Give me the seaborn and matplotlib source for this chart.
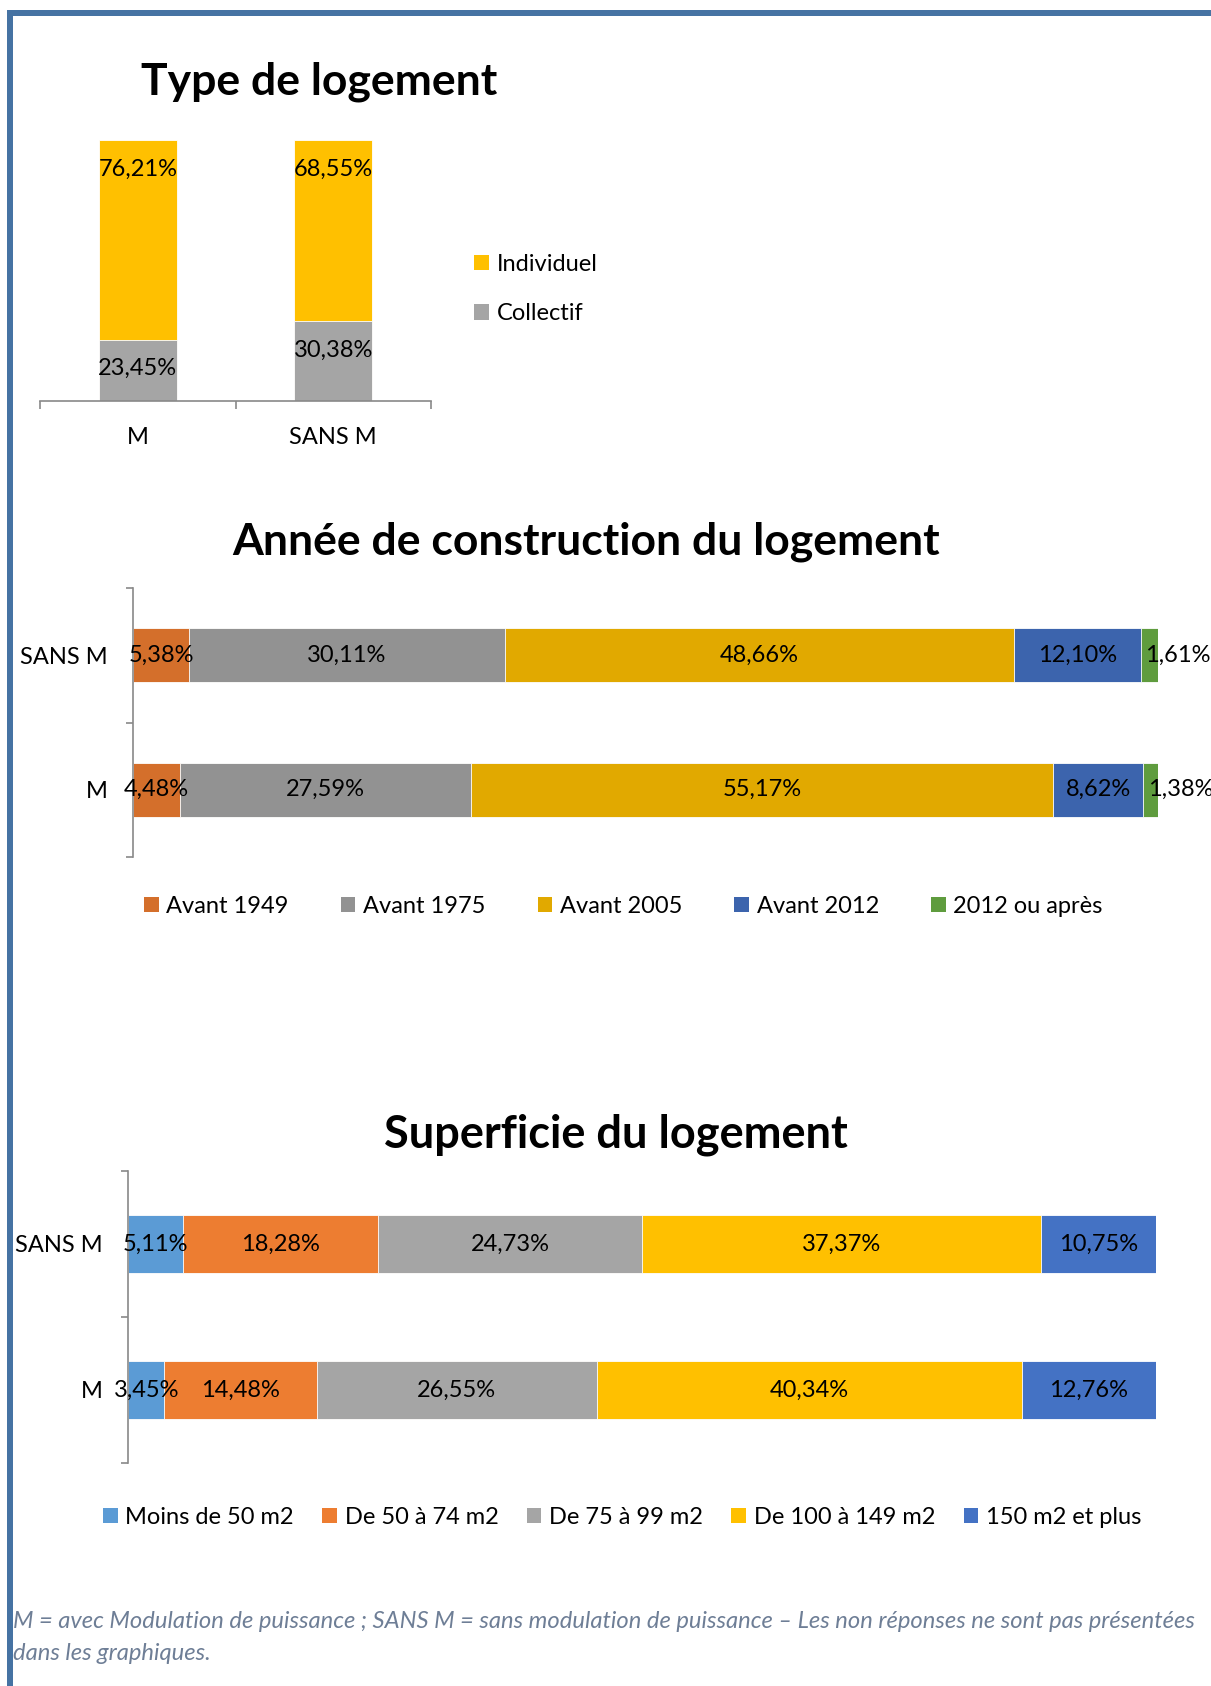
import pandas as pd
import seaborn as sns
import matplotlib.pyplot as plt
from matplotlib.patches import Patch, Rectangle
from matplotlib.ticker import FixedLocator

W, H = 1211, 1686

# --- Type de logement (vertical 100% stacked) ---
type_cats = ["M", "SANS M"]
type_series = ["Collectif", "Individuel"]
collectif = [23.45, 30.38]
individuel = [76.21, 68.55]
type_colors = ["#A5A5A5", "#FFC000"]

# --- Année de construction (horizontal 100% stacked) ---
cons_cats = ["SANS M", "M"]
cons_series = ["Avant 1949", "Avant 1975", "Avant 2005", "Avant 2012", "2012 ou après"]
avant_1949 = [5.38, 4.48]
avant_1975 = [30.11, 27.59]
avant_2005 = [48.66, 55.17]
avant_2012 = [12.10, 8.62]
apres_2012 = [1.61, 1.38]
cons_colors = ["#D46F2B", "#929292", "#E1A900", "#3C64AD", "#5F9C3E"]

# --- Superficie (horizontal 100% stacked) ---
surf_cats = ["SANS M", "M"]
surf_series = ["Moins de 50 m2", "De 50 à 74 m2", "De 75 à 99 m2",
               "De 100 à 149 m2", "150 m2 et plus"]
moins_50 = [5.11, 3.45]
de_50_74 = [18.28, 14.48]
de_75_99 = [24.73, 26.55]
de_100_149 = [37.37, 40.34]
plus_150 = [10.75, 12.76]
surf_colors = ["#5B9BD5", "#ED7D31", "#A5A5A5", "#FFC000", "#4472C4"]

FOOTNOTE_1 = ("M = avec Modulation de puissance ; SANS M = sans modulation de puissance "
              "\u2013 Les non réponses ne sont pas présentées")
FOOTNOTE_2 = "dans les graphiques."

AXIS_GREY = "#898989"
BORDER = "#4673A3"
FS = 17


def px_axes(fig, left, top, right, bottom):
    return fig.add_axes([left / W, 1 - bottom / H, (right - left) / W, (bottom - top) / H])


def pct(v):
    return f"{v:.2f}".replace(".", ",") + "%"


def stacked(ax, cats, series, values, colors, horizontal):
    df = pd.DataFrame(dict(zip(series, values)), index=cats)
    share = df.div(df.sum(axis=1), axis=0)  # Excel normalises 100% stacked bars
    cum = share.cumsum(axis=1)
    # draw cumulative totals from the longest to the shortest
    for name, color in reversed(list(zip(series, colors))):
        d = pd.DataFrame({"cat": cats, "val": cum[name].values})
        if horizontal:
            sns.barplot(data=d, x="val", y="cat", order=cats, color=color, width=0.4,
                        saturation=1, errorbar=None, edgecolor="white", linewidth=0.6, ax=ax)
        else:
            sns.barplot(data=d, x="cat", y="val", order=cats, color=color, width=0.4,
                        saturation=1, errorbar=None, edgecolor="white", linewidth=0.6, ax=ax)
    ax.set_xlabel("")
    ax.set_ylabel("")
    return df, share, cum


def legend(fig, series, colors, x, y, ncol, colspace, spacing=1.0):
    handles = [Patch(facecolor=c, edgecolor="none", label=s) for s, c in zip(series, colors)]
    fig.legend(handles=handles, loc="center left", bbox_to_anchor=(x / W, 1 - y / H),
               ncol=ncol, frameon=False, fontsize=FS, handlelength=0.62, handleheight=0.62,
               handletextpad=0.33, columnspacing=colspace, borderpad=0, borderaxespad=0,
               labelspacing=spacing)


def horizontal_chart(fig, box, cats, series, values, colors, last_left):
    ax = px_axes(fig, *box)
    df, share, cum = stacked(ax, cats, series, values, colors, True)
    ax.set_xlim(0, 1)
    ax.set_ylim(1.5, -0.5)
    for s in ["top", "right", "bottom"]:
        ax.spines[s].set_visible(False)
    ax.spines["left"].set_color(AXIS_GREY)
    ax.spines["left"].set_linewidth(1.2)
    ax.set_xticks([])
    ax.set_yticks(range(len(cats)))
    ax.set_yticklabels(cats, fontsize=FS)
    ax.tick_params(axis="y", which="major", length=0, pad=18)
    ax.yaxis.set_minor_locator(FixedLocator([-0.5, 0.5, 1.5]))
    ax.tick_params(axis="y", which="minor", left=True, length=5, width=1.2, color=AXIS_GREY)
    for i, cat in enumerate(cats):
        for j, name in enumerate(series):
            start = cum.loc[cat, name] - share.loc[cat, name]
            txt = pct(df.loc[cat, name])
            if last_left and j == len(series) - 1:
                ax.annotate(txt, (start, i), xytext=(3, 0), textcoords="offset points",
                            ha="left", va="center", fontsize=FS, annotation_clip=False)
            else:
                ax.text(start + share.loc[cat, name] / 2, i, txt, ha="center", va="center",
                        fontsize=FS)
    return ax


def main():
    sns.set_style("white")
    plt.rcParams["font.family"] = ["Lato", "DejaVu Sans"]
    plt.rcParams["text.color"] = "black"
    plt.rcParams["xtick.color"] = "black"
    plt.rcParams["ytick.color"] = "black"

    fig = plt.figure(figsize=(W / 100, H / 100), dpi=100)

    # frame lines (top and left)
    fig.add_artist(Rectangle((7 / W, 1 - 16 / H), 1, 6 / H, transform=fig.transFigure,
                             facecolor=BORDER, edgecolor="none"))
    fig.add_artist(Rectangle((7 / W, 0), 6 / W, 1 - 10 / H, transform=fig.transFigure,
                             facecolor=BORDER, edgecolor="none"))

    # Chart 1
    ax1 = px_axes(fig, 40, 140, 431, 401)
    df, share, cum = stacked(ax1, type_cats, type_series, [collectif, individuel],
                             type_colors, False)
    ax1.set_ylim(0, 1)
    ax1.set_xlim(-0.5, 1.5)
    for s in ["top", "right", "left"]:
        ax1.spines[s].set_visible(False)
    ax1.spines["bottom"].set_color(AXIS_GREY)
    ax1.spines["bottom"].set_linewidth(1.2)
    ax1.set_yticks([])
    ax1.set_xticks(range(len(type_cats)))
    ax1.set_xticklabels(type_cats, fontsize=FS)
    ax1.tick_params(axis="x", which="major", length=0, pad=19)
    ax1.xaxis.set_minor_locator(FixedLocator([-0.5, 0.5, 1.5]))
    ax1.tick_params(axis="x", which="minor", bottom=True, length=6, width=1.2, color=AXIS_GREY)
    for i, cat in enumerate(type_cats):
        for name in type_series:
            ax1.annotate(pct(df.loc[cat, name]), (i, cum.loc[cat, name]), xytext=(0, -21),
                         textcoords="offset points", ha="center", va="center", fontsize=FS)
    fig.text(319 / W, 1 - 94 / H, "Type de logement", ha="center", va="baseline",
             fontsize=32, fontweight="bold")
    legend(fig, list(reversed(type_series)), list(reversed(type_colors)), 474, 289, 1, 1,
           spacing=1.2)

    # Chart 2
    horizontal_chart(fig, (133, 588, 1158, 857), cons_cats, cons_series,
                     [avant_1949, avant_1975, avant_2005, avant_2012, apres_2012],
                     cons_colors, True)
    fig.text(586 / W, 1 - 555 / H, "Année de construction du logement", ha="center",
             va="baseline", fontsize=32, fontweight="bold")
    legend(fig, cons_series, cons_colors, 144, 906, 5, 2.2)

    # Chart 3
    horizontal_chart(fig, (128, 1171, 1156, 1463), surf_cats, surf_series,
                     [moins_50, de_50_74, de_75_99, de_100_149, plus_150],
                     surf_colors, False)
    fig.text(616 / W, 1 - 1147 / H, "Superficie du logement", ha="center",
             va="baseline", fontsize=32.5, fontweight="bold")
    legend(fig, surf_series, surf_colors, 103, 1517, 5, 1.2)

    note = dict(ha="left", va="baseline", fontsize=17.1, style="italic", color="#6E7E96")
    fig.text(13 / W, 1 - 1628 / H, FOOTNOTE_1, **note)
    fig.text(13 / W, 1 - 1660 / H, FOOTNOTE_2, **note)

    fig.savefig("out.png", dpi=100)
    plt.close(fig)


if __name__ == "__main__":
    main()
